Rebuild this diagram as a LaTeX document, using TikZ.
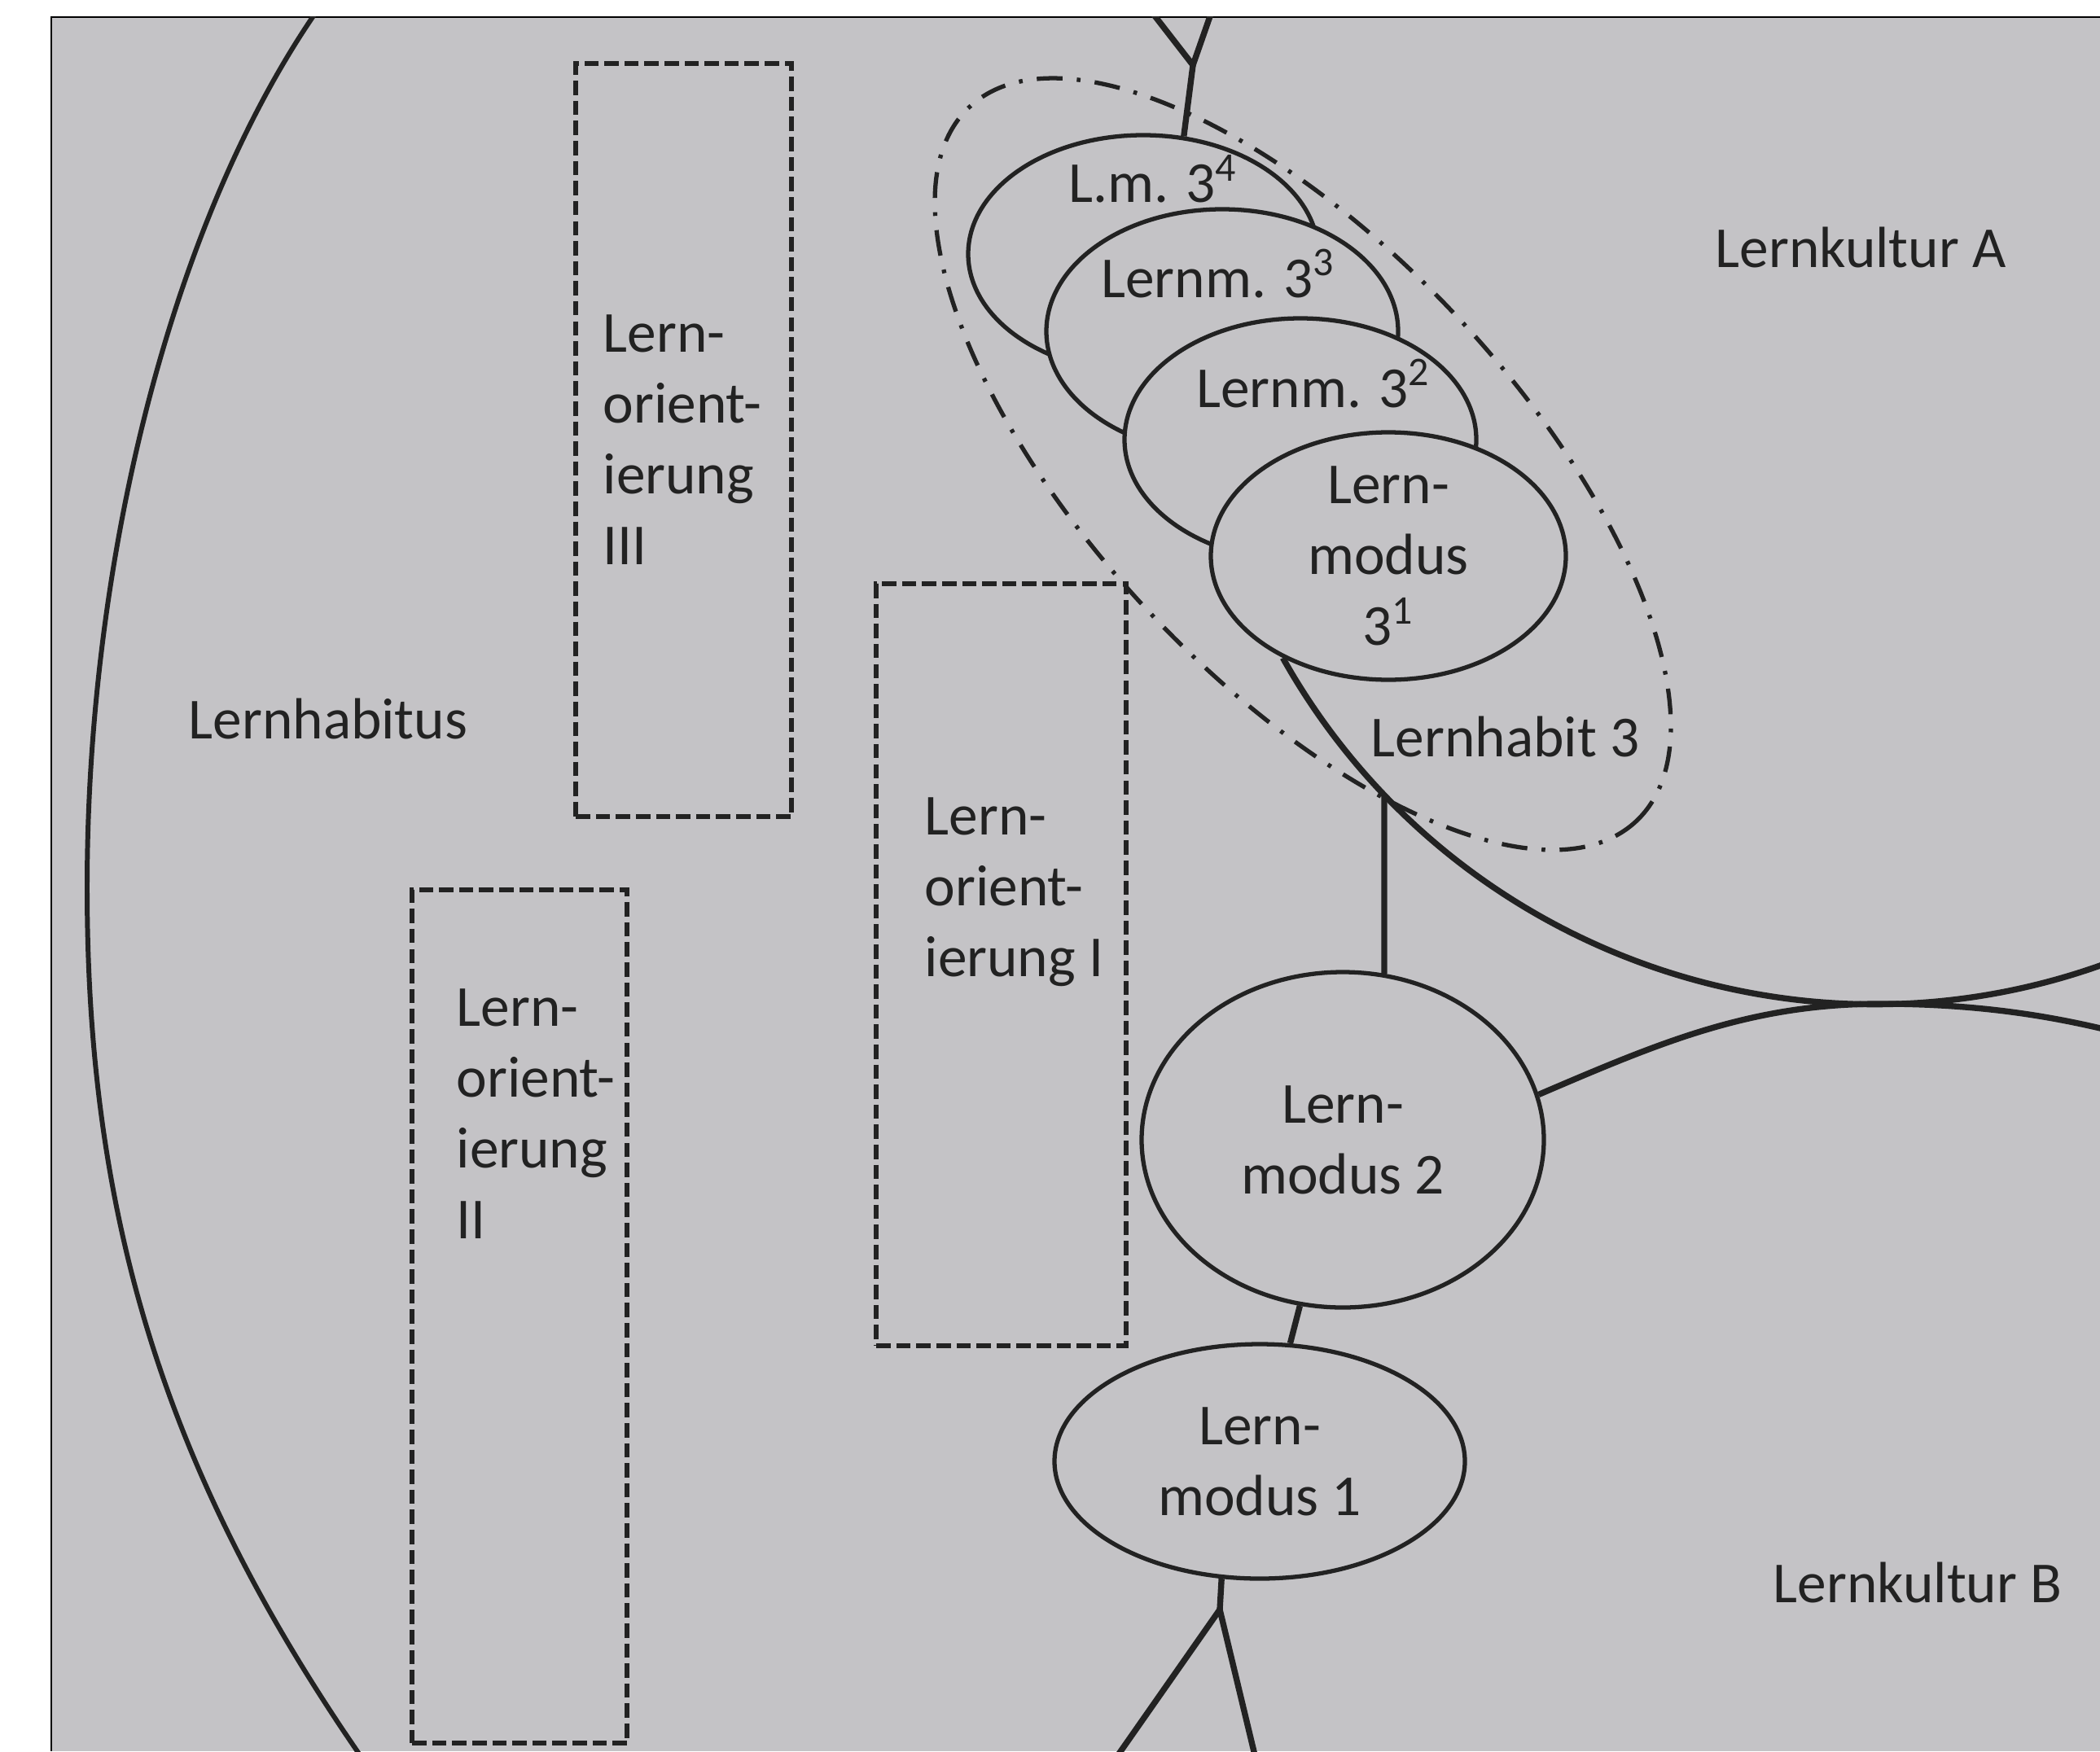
\documentclass[tikz,border=0pt]{standalone}
\usepackage{fontspec}
\setmainfont{Carlito}
\usetikzlibrary{shapes.geometric,intersections}

\definecolor{paper}{RGB}{196,195,198}
\definecolor{ink}{RGB}{34,34,34}

\tikzset{
  modus/.style={ellipse, draw=ink, fill=paper, line width=1.5pt, inner sep=0pt},
  orient/.style={rectangle, draw=ink, line width=1.8pt, dash pattern=on 5pt off 2pt, inner sep=0pt},
  habitrand/.style={ellipse, draw=ink, line width=1.5pt, dash pattern=on 9pt off 5pt on 1.3pt off 5pt, inner sep=0pt},
  kultur/.style={draw=ink, line width=2.1pt},
  txt/.style={text=ink, inner sep=0pt, font=\fontsize{20.3}{24.8}\selectfont},
}

\begin{document}
\begin{tikzpicture}
\useasboundingbox (0,0) rectangle (25.79,-21.51);
% Foto-Hintergrund
\fill[paper] (0.63,-0.21) rectangle (25.79,-21.51);
\draw[line width=0.5pt] (25.79,-0.21) -- (0.63,-0.21) -- (0.63,-21.51);

\begin{scope}
\clip (0.63,-0.21) rectangle (25.79,-21.51);

% Lernhabitus
\draw[kultur, line width=1.7pt] (3.95,-0.05) .. controls (2.10,-2.67) and (1.07,-6.90) .. (1.07,-10.90)
  .. controls (1.07,-14.90) and (1.99,-18.05) .. (4.45,-21.60);

% Lernorientierungen
\node[orient, anchor=north west, minimum width=2.65cm, minimum height=9.25cm] (lo3) at (7.04,-0.75) {};
\node[orient, anchor=north west, minimum width=2.64cm, minimum height=10.48cm] (lo2) at (5.03,-10.90) {};
\node[orient, anchor=north west, minimum width=3.07cm, minimum height=9.36cm] (lo1) at (10.73,-7.14) {};

% Lernmodi
\node[modus, minimum width=4.30cm, minimum height=2.92cm] (m34) at (14.04,-3.12) {};
\node[modus, minimum width=4.32cm, minimum height=3.00cm] (m33) at (15.01,-4.07) {};
\node[modus, minimum width=4.32cm, minimum height=2.98cm] (m32) at (15.97,-5.40) {};
\node[modus, minimum width=4.36cm, minimum height=3.04cm] (m31) at (17.05,-6.83) {};
\node[modus, minimum width=4.94cm, minimum height=4.12cm] (m2) at (16.49,-14.00) {};
\node[modus, minimum width=5.04cm, minimum height=2.88cm] (m1) at (15.47,-17.95) {};

% Lernkulturen A und B
\coordinate (kB) at (23.10,-12.33);
\coordinate (kBr) at (26.00,-12.68);
\draw[kultur, name path=kulA] (m31.224) arc[start angle=209.3, end angle=292, radius=8.33];
\draw[kultur] (m2.13) .. controls (20.40,-12.80) and (21.50,-12.33) .. (kB)
  .. controls (24.30,-12.33) and (25.20,-12.48) .. (kBr);
\path[name path=senk] (m2.76) -- ++(0,4);
\draw[kultur, name intersections={of=kulA and senk, by=jA}] (m2.76) -- (jA);
\draw[kultur] (m2) -- (m1);

% Verzweigungen oben und unten
\coordinate (vl) at (14.03,0);
\coordinate (vr) at (14.93,0);
\coordinate (vo) at (14.65,-0.80);
\draw[kultur] (vl) -- (vo) -- (vr);
\draw[kultur] (vo) -- (m34.71);
\coordinate (vu) at (14.98,-19.77);
\coordinate (ul) at (13.70,-21.60);
\coordinate (ur) at (15.42,-21.60);
\draw[kultur] (m1.252) -- (vu);
\draw[kultur] (ul) -- (vu) -- (ur);

% Lernhabit 3
\node[habitrand, minimum width=12.0cm, minimum height=5.24cm, rotate=-47] (lh3) at (16.00,-5.70) {};

% Texte
\node[txt, align=left, anchor=north west] (t3) at ([xshift=0.36cm, yshift=-3.11cm]lo3.north west) {Lern-\\orient-\\ierung\\III};
\node[txt, align=left, anchor=north west] (t2) at ([xshift=0.57cm, yshift=-1.24cm]lo2.north west) {Lern-\\orient-\\ierung\\II};
\node[txt, align=left, anchor=north west] (t1) at ([xshift=0.62cm, yshift=-2.65cm]lo1.north west) {Lern-\\orient-\\ierung I};
\node[txt, anchor=base] (t34) at ([xshift=0.12cm, yshift=0.63cm]m34.center) {L.m. 3\textsuperscript{4}};
\node[txt, anchor=base] (t33) at ([xshift=-0.05cm, yshift=0.42cm]m33.center) {Lernm. 3\textsuperscript{3}};
\node[txt, anchor=base] (t32) at ([xshift=0.16cm, yshift=0.40cm]m32.center) {Lernm. 3\textsuperscript{2}};
\node[txt, align=center] (t31) at (m31) {Lern-\\modus\\3\textsuperscript{1}};
\node[txt, align=center] (tm2) at (m2) {Lern-\\modus 2};
\node[txt, align=center] (tm1) at (m1) {Lern-\\modus 1};
\node[txt, anchor=base west] (thab) at (2.31,-9.07) {Lernhabitus};
\node[txt, anchor=base west] (th3) at (16.83,-9.29) {Lernhabit 3};
\node[txt, anchor=base west] (tkA) at (21.06,-3.29) {Lernkultur A};
\node[txt, anchor=base west] (tkB) at (21.77,-19.68) {Lernkultur B};
\end{scope}
\end{tikzpicture}
\end{document}
